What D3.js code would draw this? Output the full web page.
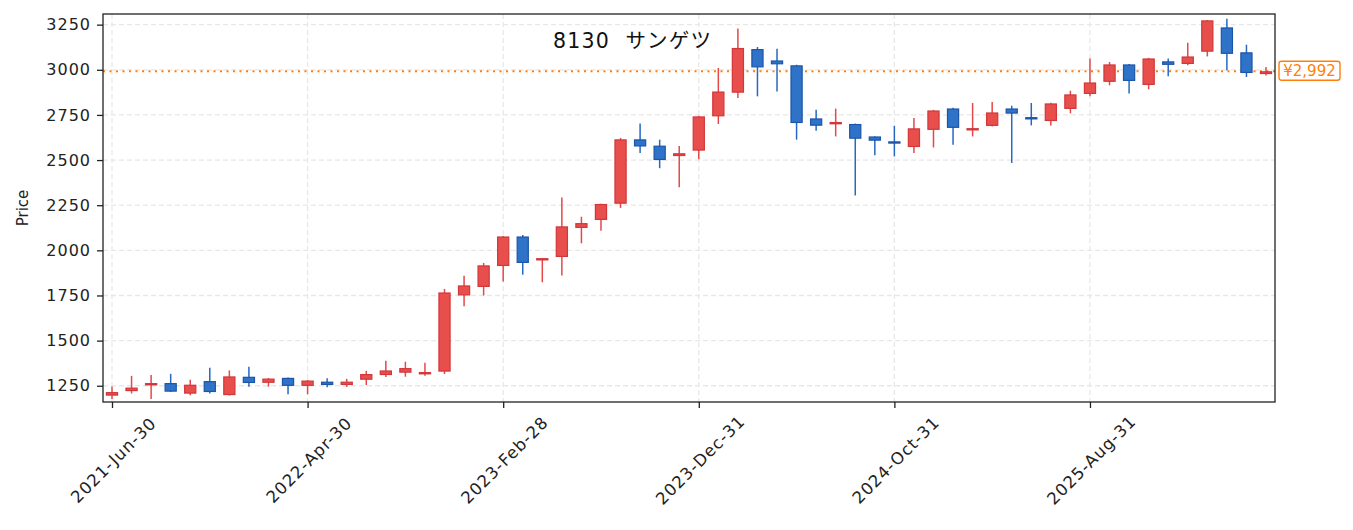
<!DOCTYPE html>
<html>
<head>
<meta charset="utf-8">
<script src="https://cdn.jsdelivr.net/npm/d3@7"></script>
<style>
  body { margin: 0; background: #fff; }
  .tick text { font-family: "DejaVu Sans", "Noto Sans CJK JP", sans-serif; font-size: 16px; fill: #222; letter-spacing: 1px; }
  .xaxis .tick text { font-size: 16.5px; }
  .tick line { stroke: #222; }
  .domain { display: none; }
</style>
</head>
<body>
<div id="viz"></div>
<script>
// monthly candles, 8130 サンゲツ
var dates = [
  "2021-06-30","2021-07-31","2021-08-31","2021-09-30","2021-10-31","2021-11-30","2021-12-31",
  "2022-01-31","2022-02-28","2022-03-31","2022-04-30","2022-05-31","2022-06-30","2022-07-31",
  "2022-08-31","2022-09-30","2022-10-31","2022-11-30","2022-12-31",
  "2023-01-31","2023-02-28","2023-03-31","2023-04-30","2023-05-31","2023-06-30","2023-07-31",
  "2023-08-31","2023-09-30","2023-10-31","2023-11-30","2023-12-31",
  "2024-01-31","2024-02-29","2024-03-31","2024-04-30","2024-05-31","2024-06-30","2024-07-31",
  "2024-08-31","2024-09-30","2024-10-31","2024-11-30","2024-12-31",
  "2025-01-31","2025-02-28","2025-03-31","2025-04-30","2025-05-31","2025-06-30","2025-07-31",
  "2025-08-31","2025-09-30","2025-10-31","2025-11-30","2025-12-31",
  "2026-01-31","2026-02-28","2026-03-31","2026-04-30","2026-05-31"
];
var open = [1195,1220,1255,1265,1206,1276,1198,1300,1266,1294,1249,1273,1254,1283,1309,1322,1320,1328,1750,1797,
  1913,2077,1952,1963,2124,2168,2258,2615,2580,2522,2552,2742,2873,3115,3052,3025,2731,2705,2700,2631,
  2604,2572,2667,2786,2671,2689,2786,2738,2716,2783,2866,2933,3030,2916,3047,3032,3100,3235,3097,2976];
var high = [1246,1305,1310,1316,1283,1350,1335,1355,1292,1296,1282,1292,1288,1333,1388,1383,1377,1786,1859,1930,
  2080,2085,1958,2292,2186,2258,2622,2702,2613,2578,2745,3010,3228,3126,3117,3028,2779,2785,2702,2632,
  2690,2733,2778,2790,2816,2822,2801,2816,2817,2884,3062,3043,3032,3066,3062,3150,3276,3283,3139,3016];
var low = [1176,1207,1177,1215,1198,1207,1196,1244,1245,1203,1203,1242,1244,1254,1298,1300,1305,1315,1690,1750,
  1828,1865,1823,1861,2039,2109,2235,2539,2455,2349,2504,2700,2844,2853,2880,2613,2663,2631,2304,2526,
  2520,2539,2570,2585,2631,2686,2484,2692,2692,2759,2853,2914,2869,2892,2964,3025,3074,2997,2960,2969];
var close = [1215,1240,1265,1217,1256,1215,1302,1265,1290,1249,1279,1254,1273,1315,1335,1348,1326,1767,1806,1917,
  2077,1930,1957,2133,2151,2257,2615,2575,2500,2538,2742,2880,3121,3013,3030,2705,2690,2711,2618,2607,
  2598,2676,2775,2678,2677,2764,2757,2732,2814,2864,2930,3030,2938,3063,3027,3074,3274,3088,2982,2992];

var yTicks = [1250,1500,1750,2000,2250,2500,2750,3000,3250];
var xTickIdx = [0,10,20,30,40,50];
var lastPrice = 2992;
var title = "8130  サンゲツ";

var width = 1353, height = 530;
var margin = { top: 14, right: 78, bottom: 128, left: 103 };
var pw = width - margin.left - margin.right,
  ph = height - margin.top - margin.bottom;

var parseDate = d3.timeParse("%Y-%m-%d");
var fmtDate = d3.timeFormat("%Y-%b-%d");

var xScale = d3.scaleLinear().domain([-0.46, dates.length - 0.54]).range([0, pw]);
var yScale = d3.scaleLinear().domain([1160, 3309]).range([ph, 0]);

var svg = d3.select("#viz").append("svg")
  .attr("width", width)
  .attr("height", height);

var g = svg.append("g")
  .attr("transform", "translate(" + margin.left + "," + margin.top + ")");

// grid
g.selectAll("line.hgrid").data(yTicks).enter().append("line")
  .attr("class", "hgrid")
  .attr("x1", 0).attr("x2", pw)
  .attr("y1", function (d) { return yScale(d); })
  .attr("y2", function (d) { return yScale(d); })
  .attr("stroke", "#e8e8e8").attr("stroke-width", 1.3)
  .attr("stroke-dasharray", "5,3");

g.selectAll("line.vgrid").data(xTickIdx).enter().append("line")
  .attr("class", "vgrid")
  .attr("y1", 0).attr("y2", ph)
  .attr("x1", function (d) { return xScale(d); })
  .attr("x2", function (d) { return xScale(d); })
  .attr("stroke", "#e8e8e8").attr("stroke-width", 1.3)
  .attr("stroke-dasharray", "5,3");

// last price line
g.append("line")
  .attr("x1", 0).attr("x2", pw)
  .attr("y1", yScale(lastPrice)).attr("y2", yScale(lastPrice))
  .attr("stroke", "#ff7f0e").attr("stroke-width", 2)
  .attr("stroke-dasharray", "2,4.5");

// candles
var idx = d3.range(dates.length);
var bw = xScale(1) - xScale(0);
var bodyW = bw * 0.57;

var up = function (i) { return close[i] >= open[i]; };

g.selectAll("line.wick").data(idx).enter().append("line")
  .attr("class", "wick")
  .attr("x1", function (i) { return xScale(i); })
  .attr("x2", function (i) { return xScale(i); })
  .attr("y1", function (i) { return yScale(high[i]); })
  .attr("y2", function (i) { return yScale(low[i]); })
  .attr("stroke", function (i) { return up(i) ? "#e54848" : "#2668c2"; })
  .attr("stroke-width", 1.5);

g.selectAll("rect.body").data(idx).enter().append("rect")
  .attr("class", "body")
  .attr("x", function (i) { return xScale(i) - bodyW / 2; })
  .attr("width", bodyW)
  .attr("y", function (i) { return yScale(Math.max(open[i], close[i])) + 0.6; })
  .attr("height", function (i) {
    return Math.max(1.2, Math.abs(yScale(open[i]) - yScale(close[i])) - 1.2);
  })
  .attr("fill", function (i) { return up(i) ? "#e84e4c" : "#2e73c8"; })
  .attr("stroke", function (i) { return up(i) ? "#d2373a" : "#1c55a8"; })
  .attr("stroke-width", 1.2);

// axes
var yAxis = d3.axisLeft(yScale).tickValues(yTicks).tickSize(6).tickPadding(6)
  .tickFormat(d3.format("d"));
g.append("g").attr("class", "axis").call(yAxis);

var xAxis = d3.axisBottom(xScale).tickValues(xTickIdx).tickSize(6)
  .tickFormat(function (d) { return fmtDate(parseDate(dates[d])); });
var xg = g.append("g").attr("class", "axis xaxis")
  .attr("transform", "translate(0," + ph + ")")
  .call(xAxis);

xg.selectAll(".tick text")
  .attr("text-anchor", "middle")
  .attr("dy", "0.35em")
  .attr("y", 0)
  .attr("transform", "translate(1,58) rotate(-45)");

g.selectAll(".tick line").attr("stroke-width", 1.3);

// frame
g.append("rect")
  .attr("width", pw).attr("height", ph)
  .attr("fill", "none").attr("stroke", "#222").attr("stroke-width", 1.3);

// y label
svg.append("text")
  .attr("transform", "translate(28," + (margin.top + ph / 2) + ") rotate(-90)")
  .attr("text-anchor", "middle")
  .style("font-family", "DejaVu Sans, sans-serif")
  .style("font-size", "15px")
  .attr("fill", "#222")
  .text("Price");

// title
svg.append("text")
  .attr("x", 553).attr("y", 48)
  .style("font-family", "DejaVu Sans, 'Noto Sans CJK JP', sans-serif")
  .style("font-size", "20.5px")
  .style("letter-spacing", "1.2px")
  .style("white-space", "pre")
  .attr("fill", "#111")
  .text(title);

// last price tag
var tag = svg.append("g")
  .attr("transform", "translate(" + (margin.left + pw + 4) + "," + (margin.top + yScale(lastPrice)) + ")");
tag.append("rect")
  .attr("x", 0).attr("y", -10).attr("width", 61).attr("height", 19)
  .attr("rx", 2.5)
  .attr("fill", "#fff").attr("stroke", "#ff7f0e").attr("stroke-width", 1.4);
tag.append("text")
  .attr("x", 30.5).attr("y", 0).attr("dy", "0.35em")
  .attr("text-anchor", "middle")
  .style("font-family", "DejaVu Sans, sans-serif")
  .style("font-size", "15px")
  .attr("fill", "#ff7f0e")
  .text("¥" + d3.format(",")(lastPrice));
</script>
</body>
</html>
